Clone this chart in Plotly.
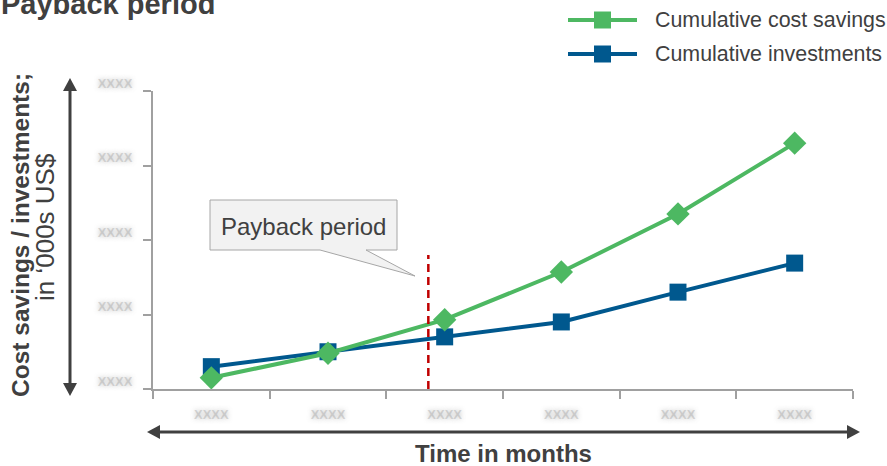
import plotly.graph_objects as go

# ---- data ----
months_idx = [0, 1, 2, 3, 4, 5]
x_tick_labels = ["XXXX", "XXXX", "XXXX", "XXXX", "XXXX", "XXXX"]
y_tick_vals = [0, 1, 2, 3, 4]
y_tick_labels = ["XXXX", "XXXX", "XXXX", "XXXX", "XXXX"]
cost_savings = [0.15, 0.48, 0.93, 1.57, 2.35, 3.30]
investments = [0.30, 0.50, 0.70, 0.90, 1.30, 1.69]
payback_x = 1.86
payback_top = 1.80

GREEN = "#4DB862"
BLUE = "#00588E"
TXT = "#404040"
FONT = "Liberation Sans, Arial, sans-serif"

W, H = 887, 466
L, R, T, B = 153, 853, 91, 389


def px(x):
    return (x - L) / (R - L)


def py(y):
    return (B - y) / (B - T)


fig = go.Figure()
fig.add_trace(go.Scatter(
    x=months_idx, y=investments, mode="lines+markers", name="Cumulative investments",
    line=dict(color=BLUE, width=4),
    marker=dict(symbol="square", size=17, color=BLUE),
    cliponaxis=False, showlegend=False))
fig.add_trace(go.Scatter(
    x=months_idx, y=cost_savings, mode="lines+markers", name="Cumulative cost savings",
    line=dict(color=GREEN, width=4),
    marker=dict(symbol="diamond", size=18, color=GREEN),
    cliponaxis=False, showlegend=False))

blur = dict(family=FONT, size=13, color="rgba(170,170,170,0.45)",
            shadow="0px 0px 5px rgba(110,110,110,1)", weight="bold")

fig.update_layout(
    width=W, height=H,
    margin=dict(l=L, r=W - R, t=T, b=H - B, pad=0),
    paper_bgcolor="white", plot_bgcolor="white",
    showlegend=False,
    xaxis=dict(range=[-0.5, 5.5], showgrid=False, zeroline=False,
               showline=True, linecolor="#A0A0A0", linewidth=2,
               tickmode="array", tickvals=months_idx, ticktext=x_tick_labels,
               ticks="", tickfont=blur, ticklabelstandoff=12,
               minor=dict(tickmode="linear", tick0=-0.5, dtick=1, ticks="outside",
                          ticklen=8, tickwidth=2, tickcolor="#A0A0A0", showgrid=False)),
    yaxis=dict(range=[0, 4], showgrid=False, zeroline=False,
               showline=True, linecolor="#A0A0A0", linewidth=2,
               tickmode="array", tickvals=y_tick_vals, ticktext=y_tick_labels,
               ticks="outside", ticklen=8, tickwidth=2, tickcolor="#A0A0A0",
               tickfont=blur, ticklabelstandoff=8, ticklabelshift=-8),
)

shapes = []
# payback dashed line
shapes.append(dict(type="line", xref="x", yref="y", x0=payback_x, x1=payback_x,
                   y0=0, y1=payback_top, line=dict(color="#C00000", width=2.5, dash="8px,5px")))

# callout box with pointer
bx0, by0, bx1, by1 = 210, 200, 397, 250
tail = [(320, 250), (415, 276), (366, 250)]
path = (f"M {px(bx0)},{py(by0)} L {px(bx1)},{py(by0)} L {px(bx1)},{py(by1)} "
        f"L {px(tail[2][0])},{py(tail[2][1])} L {px(tail[1][0])},{py(tail[1][1])} "
        f"L {px(tail[0][0])},{py(tail[0][1])} L {px(bx0)},{py(by1)} Z")
shapes.append(dict(type="path", xref="paper", yref="paper", path=path,
                   fillcolor="#F2F2F2", line=dict(color="#A6A6A6", width=1)))

ARROW = "#404040"
# vertical double arrow
vx, vy0, vy1 = 70, 78, 396
shapes.append(dict(type="line", xref="paper", yref="paper", x0=px(vx), x1=px(vx),
                   y0=py(vy0 + 10), y1=py(vy1 - 10), line=dict(color=ARROW, width=3)))
for tip, base in [(vy0, vy0 + 13), (vy1, vy1 - 13)]:
    shapes.append(dict(type="path", xref="paper", yref="paper",
                       path=f"M {px(vx)},{py(tip)} L {px(vx - 7)},{py(base)} L {px(vx + 7)},{py(base)} Z",
                       fillcolor=ARROW, line=dict(color=ARROW, width=0)))
# horizontal double arrow
hy, hx0, hx1 = 432, 147, 860
shapes.append(dict(type="line", xref="paper", yref="paper", x0=px(hx0 + 10), x1=px(hx1 - 10),
                   y0=py(hy), y1=py(hy), line=dict(color=ARROW, width=3)))
for tip, base in [(hx0, hx0 + 13), (hx1, hx1 - 13)]:
    shapes.append(dict(type="path", xref="paper", yref="paper",
                       path=f"M {px(tip)},{py(hy)} L {px(base)},{py(hy - 7)} L {px(base)},{py(hy + 7)} Z",
                       fillcolor=ARROW, line=dict(color=ARROW, width=0)))

# legend (manual)
legend_items = [("Cumulative cost savings", GREEN, 20), ("Cumulative investments", BLUE, 54)]
for name, col, ly in legend_items:
    shapes.append(dict(type="line", xref="paper", yref="paper", x0=px(568), x1=px(637),
                       y0=py(ly), y1=py(ly), line=dict(color=col, width=4)))
    shapes.append(dict(type="rect", xref="paper", yref="paper", x0=px(594), x1=px(611),
                       y0=py(ly - 8.5), y1=py(ly + 8.5), fillcolor=col, line=dict(width=0)))
fig.update_layout(shapes=shapes)

ann = []
for name, col, ly in legend_items:
    ann.append(dict(text=name, xref="paper", yref="paper", x=px(653), y=py(ly),
                    xanchor="left", yanchor="middle", showarrow=False,
                    font=dict(family=FONT, size=21.4, color=TXT)))
ann.append(dict(text="<b>Payback period</b>", xref="paper", yref="paper", x=px(-1), y=py(4),
                xanchor="left", yanchor="middle", showarrow=False,
                font=dict(family=FONT, size=29, color=TXT)))
ann.append(dict(text="Payback period", xref="paper", yref="paper", x=px(303), y=py(226),
                xanchor="center", yanchor="middle", showarrow=False,
                font=dict(family=FONT, size=24, color=TXT)))
ann.append(dict(text="<b>Time in months</b>", xref="paper", yref="paper", x=px(503), y=py(453),
                xanchor="center", yanchor="middle", showarrow=False,
                font=dict(family=FONT, size=24, color=TXT)))
ann.append(dict(text="<b>Cost savings / investments;</b>", xref="paper", yref="paper", x=px(20), y=py(399),
                xanchor="center", yanchor="bottom", showarrow=False, textangle=-90,
                font=dict(family=FONT, size=24.5, color=TXT)))
ann.append(dict(text="in \u2018000s US$", xref="paper", yref="paper", x=px(45), y=py(303),
                xanchor="center", yanchor="bottom", showarrow=False, textangle=-90,
                font=dict(family=FONT, size=26, color=TXT)))
fig.update_layout(annotations=ann)

fig.write_html("out.html")
